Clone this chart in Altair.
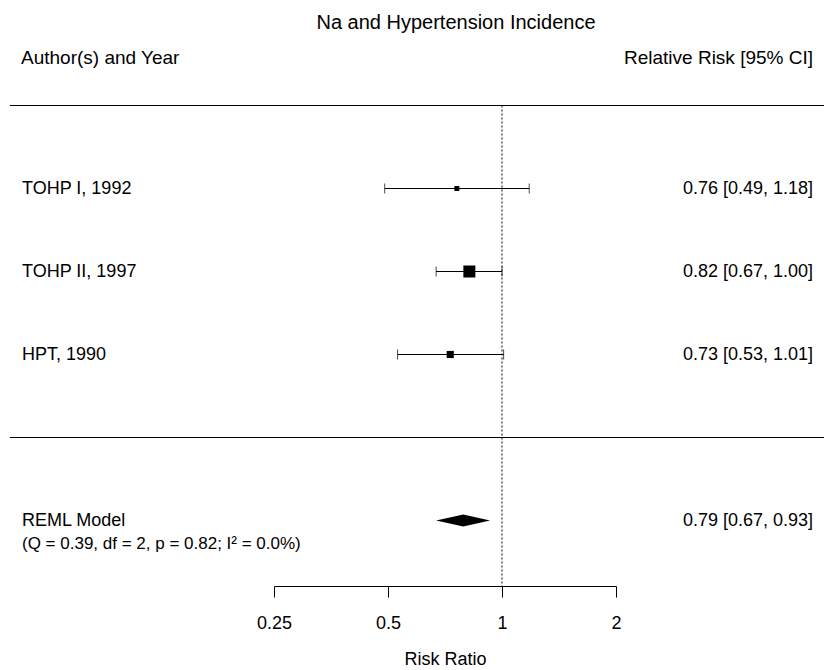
import altair as alt
import pandas as pd

# ---- data ----
studies = ["TOHP I, 1992", "TOHP II, 1997", "HPT, 1990"]
rr = [0.76, 0.82, 0.73]
ci_lo = [0.49, 0.67, 0.53]
ci_hi = [1.18, 1.00, 1.01]
weights = [13, 63, 24]          # approximate study weights (%)
rows = [3, 2, 1]

summary_label = "REML Model"
summary_est = 0.79
summary_lo = 0.67
summary_hi = 0.93
summary_row = -1
het_text = "(Q = 0.39, df = 2, p = 0.82; I² = 0.0%)"

tick_values = [0.25, 0.5, 1, 2]
sep_rows = [4, 0]

FONT = "Liberation Sans"
FS = 18

def fmt(e, l, h):
    return f"{e:.2f} [{l:.2f}, {h:.2f}]"

df = pd.DataFrame({
    "study": studies, "rr": rr, "lo": ci_lo, "hi": ci_hi,
    "w": weights, "row": rows,
    "lab": [fmt(e, l, h) for e, l, h in zip(rr, ci_lo, ci_hi)],
})
sdf = pd.DataFrame({
    "study": [summary_label], "rr": [summary_est], "lo": [summary_lo],
    "hi": [summary_hi], "row": [summary_row],
    "lab": [fmt(summary_est, summary_lo, summary_hi)],
})

half_h = 0.073  # diamond half height in row units
diamond = pd.DataFrame({
    "x": [summary_lo, summary_est, summary_hi],
    "ya": [summary_row, summary_row + half_h, summary_row],
    "yb": [summary_row, summary_row - half_h, summary_row],
})

xscale = alt.Scale(type="log", domain=[0.25, 2], range=[274, 616], nice=False)
yscale = alt.Scale(domain=[-3, 5], range=[686.5, 22.5])

xaxis = alt.Axis(values=tick_values, format="~g", grid=False,
                 labelFlush=False, labelOverlap=False,
                 tickSize=11, labelPadding=17, titlePadding=18,
                 domainColor="black", tickColor="black",
                 labelColor="black", titleColor="black",
                 labelFont=FONT, titleFont=FONT,
                 labelFontSize=FS, titleFontSize=FS,
                 titleFontWeight="normal")

X = lambda f: alt.X(f, type="quantitative", scale=xscale, axis=xaxis, title="Risk Ratio")
Y = lambda f: alt.Y(f, type="quantitative", scale=yscale, axis=None)

seps = alt.Chart(pd.DataFrame({"r": sep_rows})).mark_rule(color="black", strokeWidth=1).encode(
    y=Y("r"), x=alt.value(10), x2=alt.value(824)
)

refline = alt.Chart(pd.DataFrame({"x": [1], "r": [4]})).mark_rule(
    color="black", strokeWidth=1, strokeDash=[2, 2]
).encode(x=X("x"), y=Y("r"), y2=alt.value(586))

ci = alt.Chart(df).mark_rule(color="black", strokeWidth=1).encode(
    x=X("lo"), x2="hi", y=Y("row")
)
cap_lo = alt.Chart(df).mark_tick(color="black", orient="vertical", size=10, thickness=1).encode(
    x=X("lo"), y=Y("row")
)
cap_hi = alt.Chart(df).mark_tick(color="black", orient="vertical", size=10, thickness=1).encode(
    x=X("hi"), y=Y("row")
)
squares = alt.Chart(df).mark_square(color="black", opacity=1, filled=True).encode(
    x=X("rr"), y=Y("row"),
    size=alt.Size("w:Q", scale=alt.Scale(domain=[13, 63], range=[25, 144]), legend=None),
)

dia = alt.Chart(diamond).mark_area(color="black", orient="vertical", opacity=1).encode(
    x=X("x"), y=Y("ya"), y2="yb"
)

left_lab = alt.Chart(pd.concat([df, sdf])).mark_text(
    align="left", baseline="middle", font=FONT, fontSize=FS, color="black"
).encode(x=alt.value(22), y=Y("row"), text="study:N")

right_lab = alt.Chart(pd.concat([df, sdf])).mark_text(
    align="right", baseline="middle", font=FONT, fontSize=FS, color="black"
).encode(x=alt.value(813), y=Y("row"), text="lab:N")

het = alt.Chart(pd.DataFrame({"t": [het_text], "row": [summary_row]})).mark_text(
    align="left", baseline="middle", font=FONT, fontSize=17, color="black", dy=23
).encode(x=alt.value(22), y=Y("row"), text="t:N")

def label(t, x, y, align, size):
    return alt.Chart(pd.DataFrame({"t": [t]})).mark_text(
        align=align, baseline="middle", font=FONT, fontSize=size, color="black"
    ).encode(x=alt.value(x), y=alt.value(y), text="t:N")

title = label("Na and Hypertension Incidence", 456, 23, "center", 20)
head_l = label("Author(s) and Year", 21, 58, "left", 19)
head_r = label("Relative Risk [95% CI]", 813, 58, "right", 19)

chart = alt.layer(
    seps, refline, ci, cap_lo, cap_hi, squares, dia,
    left_lab, right_lab, het, title, head_l, head_r
).properties(
    width=824, height=586,
    background="white",
    autosize=alt.AutoSizeParams(type="none"),
    padding={"left": 0, "right": 0, "top": 0, "bottom": 84},
).configure_view(stroke=None)

chart.save("out.html", embed_options={"renderer": "svg", "actions": False})
